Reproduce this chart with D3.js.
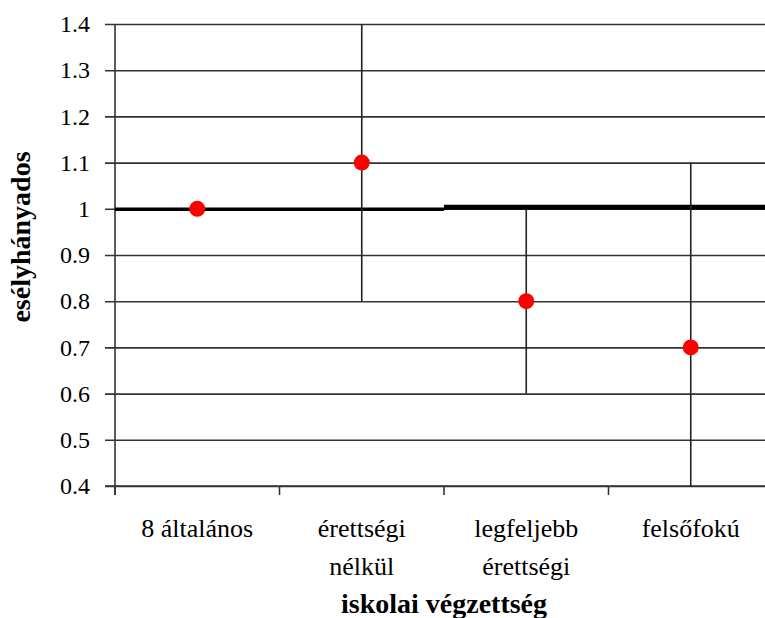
<!DOCTYPE html>
<html>
<head>
<meta charset="utf-8">
<script src="https://cdn.jsdelivr.net/npm/d3@7"></script>
<style>
  html, body { margin: 0; padding: 0; background: #fff; }
  svg { display: block; }
</style>
</head>
<body>
<svg id="chart" width="765" height="618"></svg>
<script>
// Odds ratios by education level, with confidence intervals
const categories = ["8 általános", "érettségi\nnélkül", "legfeljebb\nérettségi", "felsőfokú"];
const oddsRatio = [1.0, 1.1, 0.8, 0.7];
const ciLower = [null, 0.8, 0.6, 0.4];
const ciUpper = [null, 1.4, 1.0, 1.1];
const yTicks = [0.4, 0.5, 0.6, 0.7, 0.8, 0.9, 1.0, 1.1, 1.2, 1.3, 1.4];
const yTickLabels = ["0.4", "0.5", "0.6", "0.7", "0.8", "0.9", "1", "1.1", "1.2", "1.3", "1.4"];
const referenceValue = 1;
const xTitle = "iskolai végzettség";
const yTitle = "esélyhányados";

const W = 765, H = 618;
const plot = { left: 115, right: 773, top: 24, bottom: 486 };
const SERIF = "'Liberation Serif', 'Times New Roman', serif";
const INK = "#000";

const svg = d3.select("#chart");

const x = d3.scaleBand().domain(categories).range([plot.left, plot.right]).padding(0);
const y = d3.scaleLinear().domain([0.4, 1.4]).range([plot.bottom, plot.top]);

// horizontal gridlines with left ticks
const yAxis = d3.axisLeft(y)
  .tickValues(yTicks)
  .tickFormat((d, i) => yTickLabels[i])
  .tickSize(-(W - plot.left))
  .tickSizeOuter(0)
  .tickPadding(25);

const gy = svg.append("g").attr("transform", `translate(${plot.left},0)`).call(yAxis);
gy.select(".domain").remove();
gy.selectAll(".tick line")
  .attr("x1", -10)
  .attr("stroke", "#333")
  .attr("stroke-width", 1.6);
gy.selectAll(".tick text")
  .style("font-family", SERIF)
  .style("font-size", "24px")
  .style("fill", INK);

// y axis line
svg.append("line")
  .attr("x1", plot.left).attr("x2", plot.left)
  .attr("y1", y(1.4)).attr("y2", y(0.4) + 9)
  .attr("stroke", "#333").attr("stroke-width", 1.6);

// x axis with ticks at band boundaries
const bounds = categories.map(c => x(c)).concat([plot.right]);
svg.append("line")
  .attr("x1", plot.left - 10).attr("x2", W)
  .attr("y1", y(0.4)).attr("y2", y(0.4))
  .attr("stroke", "#333").attr("stroke-width", 1.6);
svg.append("g").selectAll("line").data(bounds).join("line")
  .attr("x1", d => d).attr("x2", d => d)
  .attr("y1", y(0.4)).attr("y2", y(0.4) + 9)
  .attr("stroke", "#333").attr("stroke-width", 1.6);

// category labels
const cat = svg.append("g").selectAll("text").data(categories).join("text")
  .attr("text-anchor", "middle")
  .style("font-family", SERIF)
  .style("font-size", "26px")
  .style("fill", INK)
  .attr("x", d => x(d) + x.bandwidth() / 2)
  .attr("y", 537);
cat.selectAll("tspan").data(d => d.split("\n")).join("tspan")
  .attr("x", function () { return d3.select(this.parentNode).attr("x"); })
  .attr("dy", (d, i) => i === 0 ? 0 : 38)
  .text(d => d);

// axis titles
svg.append("text")
  .attr("text-anchor", "middle")
  .style("font-family", SERIF)
  .style("font-size", "28px").style("font-weight", "bold")
  .style("fill", INK)
  .attr("x", (plot.left + plot.right) / 2).attr("y", 613)
  .text(xTitle);
svg.append("text")
  .attr("text-anchor", "middle")
  .style("font-family", SERIF)
  .style("font-size", "28px").style("font-weight", "bold")
  .style("fill", INK)
  .attr("transform", `translate(30,237) rotate(-90)`)
  .text(yTitle);

// reference line at 1, drawn per half of the categories
const halves = [
  { from: categories[0], to: categories[1], w: 3.5, dy: 0.5 },
  { from: categories[2], to: categories[3], w: 5, dy: -1.5 }
];
svg.append("g").selectAll("line").data(halves).join("line")
  .attr("x1", d => x(d.from))
  .attr("x2", d => Math.min(W, x(d.to) + x.bandwidth()))
  .attr("y1", d => y(referenceValue) + d.dy)
  .attr("y2", d => y(referenceValue) + d.dy)
  .attr("stroke", "#000")
  .attr("stroke-width", d => d.w);

// confidence intervals
const ci = categories.map((c, i) => ({ c, lo: ciLower[i], hi: ciUpper[i] })).filter(d => d.lo != null);
svg.append("g").selectAll("line").data(ci).join("line")
  .attr("x1", d => x(d.c) + x.bandwidth() / 2)
  .attr("x2", d => x(d.c) + x.bandwidth() / 2)
  .attr("y1", d => y(d.hi))
  .attr("y2", d => y(d.lo))
  .attr("stroke", "#222")
  .attr("stroke-width", 1.6);

// point estimates
svg.append("g").selectAll("circle").data(categories.map((c, i) => ({ c, v: oddsRatio[i] }))).join("circle")
  .attr("cx", d => x(d.c) + x.bandwidth() / 2)
  .attr("cy", d => y(d.v))
  .attr("r", 8)
  .attr("fill", "#ff0000");
</script>
</body>
</html>
